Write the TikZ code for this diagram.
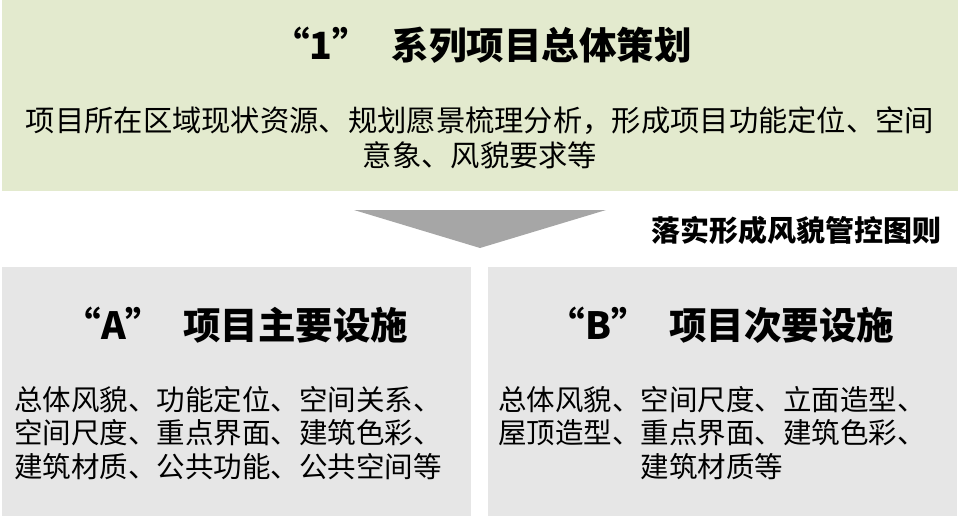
\documentclass[tikz,border=0pt]{standalone}
\usepackage{fontspec}
\setmainfont{Noto Sans CJK SC}
\usetikzlibrary{
    positioning
}
\definecolor{planGreen}{RGB}{227,234,206}
\definecolor{panelGray}{RGB}{230,230,230}
\definecolor{arrowGray}{RGB}{166,166,166}
\tikzset{%
    panel/.style={%
        rectangle,
        draw=none,
        inner sep = 0pt,
        outer sep = 0pt,
        anchor=north west
    },
    heading/.style={%
        inner sep = 0pt,
        font=\fontsize{37.5}{44}\selectfont\bfseries
    },
    body text/.style={%
        inner sep = 0pt,
        align=center,
        font=\fontsize{28.5}{33.5}\selectfont
    },
    note/.style={%
        inner sep = 0pt,
        font=\fontsize{29}{34}\selectfont\bfseries
    },
}

\begin{document}
\begin{tikzpicture}[x=1pt, y=-1pt]
    \useasboundingbox (0,0) rectangle (960,516);

    % panels
    \node[panel, fill=planGreen, minimum width=956pt, minimum height=191pt] (plan) at (2,0) {};
    \node[panel, fill=panelGray, minimum width=469pt, minimum height=249pt] (majorA) at (2,267) {};
    \node[panel, fill=panelGray, minimum width=469pt, minimum height=249pt] (minorB) at (488,267) {};

    % downward arrow
    \fill[arrowGray] (354,210) -- (606,210) -- (480,248) -- cycle;

    \node[heading] (planTitle) at (482,45) {“1”\hspace{22pt}系列项目总体策划};
    \node[body text, font=\fontsize{29.3}{35}\selectfont] (planText) at (480,138) {项目所在区域现状资源、规划愿景梳理分析，形成项目功能定位、空间\\意象、风貌要求等};

    \node[note, anchor=east] (rule) at (942,230) {落实形成风貌管控图则};

    \node[heading] (titleA) at (236,325) {“A”\hspace{20pt}项目主要设施};
    \node[body text] (textA) at (228,433) {总体风貌、功能定位、空间关系、\\空间尺度、重点界面、建筑色彩、\\建筑材质、公共功能、公共空间等};

    \node[heading] (titleB) at (721,325) {“B”\hspace{20pt}项目次要设施};
    \node[body text] (textB) at (712,433) {总体风貌、空间尺度、立面造型、\\屋顶造型、重点界面、建筑色彩、\\建筑材质等};
\end{tikzpicture}
\end{document}
